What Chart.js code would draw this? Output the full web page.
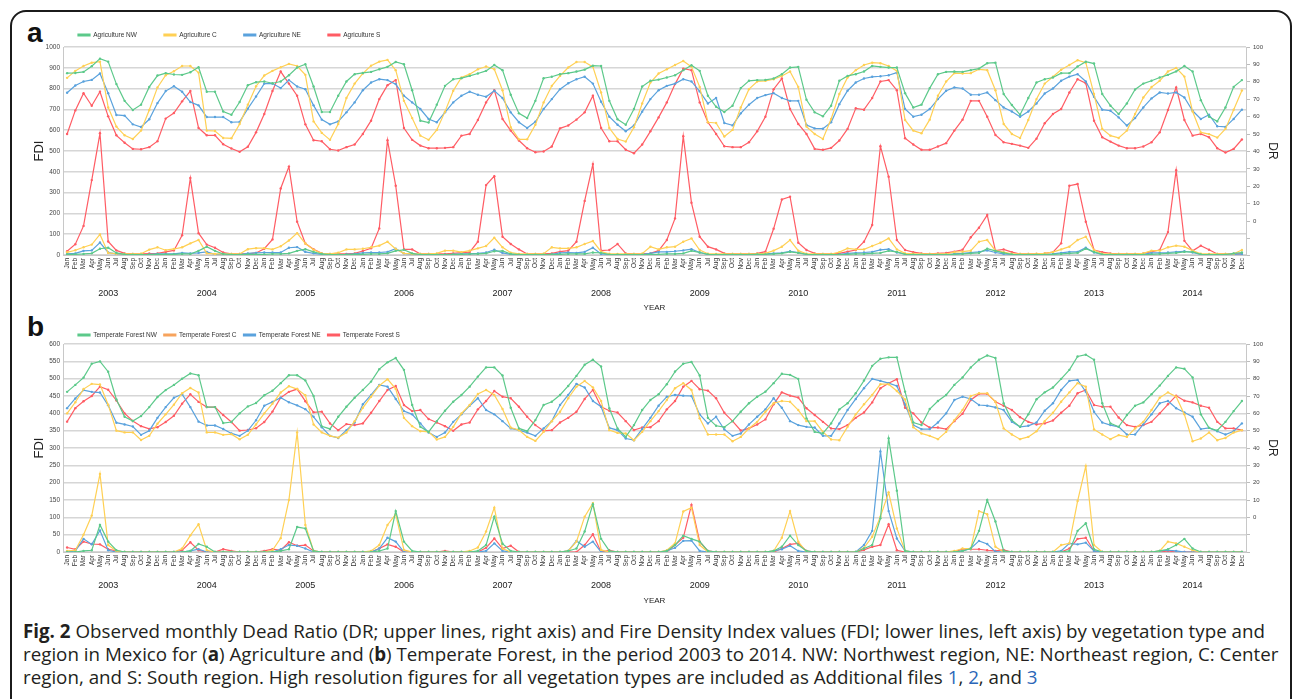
<!DOCTYPE html>
<html>
<head>
<meta charset="utf-8">
<script src="https://cdn.jsdelivr.net/npm/chart.js@4.4.0/dist/chart.umd.min.js"></script>
<style>
body { margin: 0; background: #fff; width: 1293px; height: 699px; overflow: hidden; position: relative; }
#frame { position: absolute; left: 10px; top: 10px; width: 1282px; height: 740px; box-sizing: border-box;
         border: 2.5px solid #1b1b1b; border-radius: 16px; }
.tag { position: absolute; left: 27px; font: bold 28px/28px "Liberation Sans", Arial, sans-serif; color: #111; }
canvas { position: absolute; left: 0; }
#caption { position: absolute; left: 23px; top: 620px; font: 19px/23px "Open Sans", sans-serif; color: #231f20; }
#caption .ln { white-space: nowrap; width: max-content; transform-origin: 0 0; }
#caption .lk { color: #2b66b8; }
</style>
</head>
<body>
<div id="frame"></div>
<div class="tag" style="top:19px">a</div>
<div class="tag" style="top:313px">b</div>
<canvas id="agri" width="1293" height="296" style="top:24px"></canvas>
<canvas id="forest" width="1293" height="292" style="top:318px"></canvas>
<div id="caption">
  <div class="ln"><b>Fig. 2</b> Observed monthly Dead Ratio (DR; upper lines, right axis) and Fire Density Index values (FDI; lower lines, left axis) by vegetation type and</div>
  <div class="ln">region in Mexico for (<b>a</b>) Agriculture and (<b>b</b>) Temperate Forest, in the period 2003 to 2014. NW: Northwest region, NE: Northeast region, C: Center</div>
  <div class="ln">region, and S: South region. High resolution figures for all vegetation types are included as Additional files <span class="lk">1</span>, <span class="lk">2</span>, and <span class="lk">3</span></div>
</div>
<script>
Chart.defaults.font.family = '"Liberation Sans", Arial, sans-serif';
Chart.defaults.color = '#333';
Chart.defaults.animation = false;

// axis labels
const months = ['Jan', 'Feb', 'Mar', 'Apr', 'May', 'Jun', 'Jul', 'Aug', 'Sep', 'Oct', 'Nov', 'Dec'];
const years = ['2003', '2004', '2005', '2006', '2007', '2008', '2009', '2010', '2011', '2012', '2013', '2014'];
const monthLabels = years.flatMap(() => months);
const yearLabels = years.flatMap(y => months.map(() => y));

// panel a: Agriculture
const agriNames = ['Agriculture NW', 'Agriculture C', 'Agriculture NE', 'Agriculture S'];

const agriDrNW = [
  85.0,85.1,85.7,89.0,93.3,91.6,78.7,69.1,63.8,66.9,77.1,83.6,
  85.0,84.2,84.0,85.5,88.4,74.3,74.3,63.0,61.1,68.4,78.1,79.8,
  80.2,79.2,80.2,83.8,88.2,90.1,77.3,62.7,62.7,72.0,80.2,84.4,
  85.1,85.7,87.2,88.6,91.4,90.1,75.2,57.7,56.6,66.9,77.7,81.5,
  82.1,83.4,84.8,86.3,89.7,86.7,72.6,61.9,59.2,69.1,82.1,82.9,
  84.4,85.0,85.9,87.0,89.3,89.1,69.1,58.5,55.4,64.4,77.3,80.6,
  81.3,82.5,83.8,86.7,89.5,86.3,72.0,65.7,62.7,66.3,76.4,80.6,
  81.0,81.1,81.9,84.4,88.2,88.6,69.7,62.5,60.2,66.3,80.6,83.4,
  84.4,85.9,89.1,88.6,88.2,88.2,73.5,65.3,66.9,76.4,84.4,85.7,
  85.9,85.7,86.7,87.6,90.7,91.0,73.0,66.7,61.1,70.7,79.6,81.5,
  82.5,85.0,85.0,88.8,91.6,90.5,73.0,66.3,61.5,67.6,75.6,79.0,
  80.6,82.5,84.0,86.0,89.1,85.9,69.5,60.0,57.3,65.3,77.1,81.0
];
const agriDrC = [
  82.3,86.3,89.1,91.0,91.6,65.3,54.3,49.3,47.2,52.0,63.8,76.8,
  83.8,86.1,89.1,89.1,85.3,52.0,51.8,47.8,47.6,55.8,66.9,77.5,
  83.6,86.3,88.4,90.3,89.1,84.0,57.3,50.7,46.7,55.8,70.7,79.0,
  84.8,89.3,91.6,92.6,86.7,69.1,59.2,49.1,46.7,52.4,62.9,74.9,
  82.5,84.4,87.2,88.8,87.2,75.2,53.9,47.0,47.0,55.4,68.2,77.7,
  83.4,88.2,91.4,91.4,88.6,73.9,53.5,47.2,45.7,53.9,67.6,79.6,
  84.8,87.2,89.7,92.0,88.6,77.1,56.8,56.4,48.6,52.4,65.3,75.8,
  80.2,80.6,81.5,83.4,85.9,77.1,54.3,50.1,47.2,58.7,73.0,82.5,
  86.7,89.7,91.0,90.7,89.1,86.3,58.1,52.0,50.5,58.3,72.0,80.2,
  85.0,84.8,85.0,87.2,86.7,75.2,55.8,50.1,47.8,58.1,70.1,79.0,
  82.9,86.9,89.7,92.4,91.0,73.0,53.0,49.1,47.8,52.0,61.5,71.0,
  77.0,80.6,85.9,88.0,83.0,63.0,51.0,50.0,48.0,53.0,64.0,75.0
];
const agriDrNE = [
  73.7,77.9,80.2,81.1,84.8,73.5,61.0,60.6,55.6,54.1,58.5,67.8,
  74.7,77.5,74.3,68.4,66.5,59.8,59.8,59.8,56.8,57.0,64.6,71.6,
  79.0,79.0,76.4,81.0,77.3,75.8,66.5,58.3,55.6,57.3,62.5,68.2,
  75.2,79.6,81.5,81.0,78.7,72.0,68.2,64.4,58.7,56.8,62.5,68.2,
  72.0,74.3,72.6,71.4,74.9,70.7,62.5,56.8,53.5,57.1,64.4,70.1,
  75.8,79.2,81.5,82.9,79.0,68.6,60.0,55.4,51.6,54.9,62.9,70.1,
  75.2,77.7,79.0,81.5,80.2,74.5,67.6,70.7,56.4,55.0,61.9,66.9,
  70.7,72.4,73.5,70.7,69.1,69.1,55.2,53.3,53.1,56.8,67.2,74.9,
  79.6,81.9,82.9,83.2,83.8,85.3,64.4,60.0,61.1,64.4,70.1,74.9,
  76.8,76.2,72.6,72.6,73.9,69.5,65.3,63.0,60.0,63.0,67.6,73.3,
  76.2,80.6,83.0,84.4,80.2,71.4,64.0,63.4,59.6,54.9,59.2,65.3,
  70.5,73.9,73.3,73.9,71.0,63.4,58.7,61.1,54.5,54.1,58.7,64.0
];
const agriDrS = [
  50.1,63.6,73.5,66.3,74.3,60.2,49.3,45.0,41.5,41.3,42.5,45.9,
  58.9,62.1,68.8,74.7,53.5,49.3,49.3,44.2,41.7,39.8,42.7,51.0,
  61.5,74.7,85.9,79.0,72.0,55.6,46.5,45.9,41.3,40.6,42.5,44.0,
  50.1,57.7,70.1,78.1,81.0,53.5,46.7,43.4,41.9,41.9,42.1,42.5,
  49.1,50.1,58.1,68.2,75.2,58.7,52.0,46.3,41.9,39.6,40.0,42.9,
  53.3,54.9,58.3,62.5,72.0,53.5,45.9,45.9,41.0,39.0,44.0,51.6,
  59.6,68.2,78.7,87.6,86.7,68.2,56.8,50.1,43.0,42.5,42.5,45.3,
  51.6,60.0,75.8,81.9,64.4,55.8,50.1,41.5,41.0,42.1,46.3,53.0,
  64.8,64.0,70.7,80.2,81.0,75.2,47.6,44.0,41.0,41.0,42.9,44.8,
  52.0,58.3,69.1,69.1,60.0,49.5,45.3,44.4,43.4,42.1,47.4,56.2,
  61.5,64.4,73.9,81.5,79.2,57.7,48.2,45.7,43.4,41.9,41.9,42.9,
  45.3,51.0,63.8,76.8,58.1,49.1,50.1,48.2,41.9,39.4,41.5,46.9
];

const agriFdiNW = [
  3,3,5,8,30,35,10,3,2,2,2,3,
  3,3,5,5,20,40,20,5,2,2,3,3,
  3,5,5,8,20,28,15,5,2,2,2,3,
  3,5,5,8,20,25,8,2,2,2,2,3,
  3,5,5,8,18,20,5,2,2,2,2,3,
  3,5,5,5,12,10,2,2,2,2,2,3,
  3,5,5,8,20,12,3,2,2,2,2,2,
  3,3,5,8,15,10,3,2,2,2,2,3,
  5,5,8,10,20,15,3,2,2,2,2,2,
  3,5,8,10,30,20,10,3,2,2,2,2,
  3,5,8,10,30,15,3,2,2,2,2,2,
  3,5,8,10,15,15,3,2,2,2,8,12
];
const agriFdiC = [
  13,23,37,50,99,10,6,5,5,6,26,37,
  23,29,37,56,72,8,5,5,5,5,28,33,
  33,27,42,70,105,55,25,8,5,11,27,27,
  30,37,45,64,29,8,5,5,5,8,21,21,
  14,21,32,43,83,37,11,5,5,5,6,37,
  32,32,37,53,67,16,6,5,5,5,6,40,
  27,37,40,64,80,24,6,5,5,5,5,5,
  6,8,21,40,72,21,6,5,5,5,14,32,
  27,27,43,59,80,27,8,6,5,5,5,5,
  14,16,21,64,72,21,14,6,5,5,6,8,
  14,27,40,72,88,24,6,5,5,5,5,8,
  21,21,37,45,40,21,6,5,5,5,6,24
];
const agriFdiNE = [
  5,8,20,22,60,12,5,3,2,2,3,5,
  5,5,10,8,10,15,3,3,2,2,8,10,
  12,12,12,35,38,15,8,3,2,2,3,5,
  10,12,12,15,30,8,3,2,2,2,2,3,
  5,5,8,12,25,10,3,2,2,2,2,3,
  10,12,10,15,35,5,3,2,2,2,3,8,
  15,15,18,22,28,12,3,2,2,2,2,2,
  3,5,8,10,18,12,3,2,2,2,3,8,
  10,12,15,25,28,12,5,3,2,2,2,2,
  5,8,12,15,22,12,5,3,2,2,2,2,
  5,10,15,15,35,12,3,2,2,2,2,3,
  10,10,12,15,18,12,3,2,2,2,3,5
];
const agriFdiS = [
  18,52,140,360,585,65,22,8,5,5,7,8,
  15,22,95,370,105,50,35,12,5,5,5,10,
  30,75,320,425,160,55,28,8,5,5,5,8,
  19,32,128,552,333,27,27,5,5,5,5,8,
  11,14,64,336,379,88,53,27,5,5,5,8,
  16,21,64,260,437,21,24,53,8,5,5,8,
  21,72,176,571,251,88,40,27,8,5,5,5,
  8,16,126,267,280,59,24,8,5,5,8,16,
  24,64,144,523,376,72,24,14,8,5,8,10,
  16,25,85,131,192,21,27,14,5,5,5,8,
  14,56,333,341,160,24,14,8,5,5,5,8,
  16,24,110,408,68,20,45,25,5,5,5,5
];

// panel b: Temperate Forest
const forestNames = ['Temperate Forest NW', 'Temperate Forest C', 'Temperate Forest NE', 'Temperate Forest S'];

const forestDrNW = [
  72.4,76.4,80.6,88.6,90.0,84.0,68.0,58.0,55.6,58.4,63.6,69.4,
  73.4,76.4,80.0,83.0,82.0,63.6,63.6,54.4,55.0,60.0,64.0,66.0,
  70.4,73.0,77.4,82.0,82.0,79.0,70.0,52.5,51.0,58.0,63.8,69.0,
  73.5,78.3,85.5,89.4,91.9,85.1,64.8,52.2,49.3,55.5,61.5,66.7,
  70.6,75.4,81.2,86.5,86.5,81.8,63.2,51.3,49.7,56.1,64.8,66.7,
  70.6,75.8,81.6,88.0,90.9,87.0,62.9,51.3,46.4,53.2,61.9,67.7,
  71.0,76.8,84.1,88.6,89.6,81.8,57.4,52.8,52.0,55.5,60.9,65.8,
  69.6,72.5,77.4,82.8,82.2,79.9,57.1,49.3,48.4,54.2,62.3,65.8,
  71.6,78.9,87.4,91.5,92.3,92.3,72.5,54.7,53.2,62.5,67.1,70.6,
  76.4,80.7,86.5,90.9,93.4,91.9,65.8,56.1,52.2,59.4,68.1,72.1,
  74.9,79.9,85.1,92.8,93.8,90.9,65.8,54.2,52.2,59.0,64.4,66.3,
  71.0,76.0,81.6,86.5,85.7,80.7,59.4,51.6,50.1,55.1,61.3,67.1
];
const forestDrC = [
  60.0,66.4,74.0,77.0,76.6,65.0,50.0,49.0,49.0,44.6,47.0,54.0,
  59.4,65.0,71.6,74.6,72.0,49.0,49.0,47.6,48.0,45.0,47.6,53.6,
  60.0,65.6,72.0,75.6,74.0,70.4,53.6,49.0,47.0,46.0,48.9,55.5,
  63.2,69.6,76.0,79.7,74.1,57.4,52.6,49.7,49.3,44.9,46.4,52.2,
  60.0,64.8,71.2,73.5,70.6,62.5,51.8,50.3,46.4,44.1,49.3,55.5,
  60.9,68.7,75.4,78.7,75.0,67.1,50.3,48.7,48.4,44.5,49.3,55.5,
  61.3,67.7,74.5,77.4,73.5,57.1,47.8,47.8,47.8,43.9,46.4,51.3,
  55.1,60.9,65.8,67.1,66.7,61.9,55.5,55.5,49.3,44.9,44.5,52.2,
  59.4,65.2,70.6,76.8,76.8,72.9,68.0,52.0,48.4,47.0,45.1,49.3,
  56.1,62.0,70.0,71.6,71.6,66.7,51.3,47.8,45.1,46.4,49.7,55.5,
  60.3,66.7,72.1,77.4,75.4,50.7,47.8,45.1,47.4,46.4,51.3,55.1,
  61.9,69.0,72.1,69.6,59.4,43.9,45.5,48.9,44.5,45.8,48.9,50.3
];
const forestDrNE = [
  63.0,68.6,73.4,72.4,72.0,64.6,54.6,53.6,52.4,47.6,50.0,57.4,
  63.6,69.0,71.0,63.6,55.2,53.0,53.0,51.0,48.4,47.0,50.0,56.0,
  64.4,66.6,69.0,66.4,64.6,62.4,58.0,52.0,47.0,45.8,50.3,54.7,
  65.2,70.6,76.4,75.4,68.3,61.3,59.4,54.2,48.9,46.4,48.9,55.1,
  59.4,64.4,68.7,61.9,59.4,55.5,51.3,50.3,48.9,47.0,51.3,55.5,
  64.8,70.6,77.0,74.9,67.1,63.8,51.6,50.3,45.5,44.5,51.0,57.4,
  64.4,69.6,70.6,70.2,70.0,59.4,54.2,58.0,50.7,47.0,48.4,53.6,
  58.0,62.3,68.7,63.2,55.5,53.2,52.2,51.8,47.0,47.0,54.2,61.9,
  68.3,74.5,79.9,78.7,77.4,75.8,65.2,53.2,50.9,50.9,54.7,60.0,
  67.7,69.6,68.3,64.8,64.4,63.4,61.9,55.1,52.2,52.8,54.7,61.5,
  65.8,73.5,78.7,79.3,72.5,60.9,54.7,53.2,52.2,47.8,47.8,53.6,
  59.4,65.8,67.1,62.9,60.5,58.0,50.9,51.6,49.7,47.8,49.7,54.2
];
const forestDrS = [
  55.2,63.0,67.0,70.0,75.4,73.6,67.4,60.0,55.6,52.6,51.0,52.0,
  55.0,58.6,65.6,71.0,66.6,63.6,63.6,59.0,55.0,50.0,50.4,51.4,
  55.0,61.0,69.0,72.4,74.0,67.0,60.6,61.0,54.2,50.3,53.8,53.2,
  54.2,60.3,67.1,73.5,75.8,64.8,61.3,61.9,56.7,54.7,52.6,49.9,
  53.6,54.7,62.3,67.1,72.9,69.6,68.7,63.8,58.0,53.2,49.9,50.3,
  54.7,57.4,60.9,68.3,73.5,63.8,61.5,60.5,55.5,50.3,51.8,52.0,
  55.5,62.3,67.1,75.4,78.7,73.9,73.1,68.7,60.3,55.5,50.1,51.3,
  53.6,56.5,65.2,72.1,70.2,69.1,62.9,59.0,55.1,51.3,50.9,53.2,
  57.4,60.5,66.3,74.5,77.4,79.7,63.2,60.0,54.7,51.8,51.8,50.9,
  55.5,59.8,67.7,71.2,71.2,66.7,64.4,61.9,57.8,55.1,53.6,54.2,
  55.9,60.3,64.4,71.6,73.5,64.8,63.8,63.8,57.6,53.2,52.2,53.2,
  55.1,60.0,65.2,70.2,67.3,66.3,64.4,63.2,55.1,51.3,51.3,50.3
];

const forestFdiNW = [
  0,0,3,5,78,30,5,0,0,0,0,0,
  0,0,0,3,23,15,0,0,0,0,0,0,
  0,0,3,8,72,68,3,0,0,0,0,0,
  0,0,3,10,118,30,3,0,0,0,0,0,
  0,0,3,20,102,24,3,0,0,0,0,0,
  0,3,10,59,138,38,3,0,0,0,0,0,
  0,3,20,47,38,30,3,0,0,0,0,0,
  0,0,3,15,47,20,3,0,0,0,0,0,
  0,10,20,97,328,177,3,0,0,0,0,0,
  0,3,10,61,150,88,3,0,0,0,0,0,
  0,0,3,61,83,8,0,0,0,0,0,0,
  0,3,8,20,38,10,0,0,0,0,0,0
];
const forestFdiC = [
  3,5,50,105,225,20,3,0,0,0,0,0,
  0,0,10,48,80,5,0,0,0,0,0,0,
  0,5,40,150,345,78,3,0,0,0,0,0,
  0,3,20,78,109,6,0,0,0,0,0,0,
  0,3,13,59,128,10,0,0,0,0,0,0,
  0,3,30,102,141,6,0,0,0,0,0,0,
  0,5,25,117,128,20,0,0,0,0,0,0,
  0,0,3,41,118,30,0,0,0,0,0,0,
  0,12,44,102,172,68,3,0,0,0,0,0,
  3,10,10,118,109,15,0,0,0,0,0,0,
  0,20,25,147,248,20,0,0,0,0,0,0,
  0,3,30,25,15,5,0,0,0,0,0,0
];
const forestFdiNE = [
  0,3,38,22,62,5,0,0,0,0,0,0,
  0,0,0,3,8,0,0,0,0,0,0,0,
  0,0,8,20,18,10,0,0,0,0,0,0,
  0,0,10,41,30,0,0,0,0,0,0,0,
  0,0,0,3,25,3,0,0,0,0,0,0,
  0,3,32,15,30,0,0,0,0,0,0,0,
  0,3,12,32,33,3,0,0,0,0,0,0,
  0,0,3,8,18,3,0,0,0,0,0,0,
  0,20,61,290,118,39,3,0,0,0,0,0,
  0,3,10,32,23,1,0,0,0,0,0,0,
  0,3,25,22,27,3,0,0,0,0,0,0,
  0,3,5,3,0,0,0,0,0,0,0,0
];
const forestFdiS = [
  13,8,30,23,22,8,3,0,0,0,0,0,
  0,0,5,28,5,0,0,8,3,0,0,0,
  3,8,5,28,18,20,3,0,0,0,0,0,
  0,0,10,22,15,0,0,0,0,0,3,0,
  0,0,0,12,39,10,18,0,0,0,0,0,
  0,0,0,20,51,0,5,0,0,0,0,0,
  0,0,20,41,136,30,3,0,0,0,0,0,
  0,0,0,10,22,25,3,0,0,0,0,0,
  0,6,15,20,80,5,0,0,0,0,0,0,
  0,9,8,8,5,3,6,0,0,0,0,0,
  0,0,10,38,41,3,0,0,0,0,0,0,
  0,0,3,0,0,0,0,0,0,0,0,0
];

const lineColors = ['#5cc98a', '#ffd054', '#5aa2dd', '#ff5c64'];
const forestLegendColors = ['#5cc98a', '#f7a35c', '#5aa2dd', '#ff5c64'];

function series(label, data, color, axis) {
  return {
    label: label,
    data: data,
    yAxisID: axis,
    borderColor: color,
    backgroundColor: color,
    borderWidth: 1.2,
    pointRadius: 1.2,
    pointBorderWidth: 0,
    pointBackgroundColor: color,
    tension: 0
  };
}

// puts the legend where the original has it and fixes its height
const legendPlace = {
  id: 'legendPlace',
  beforeInit(chart, args, opts) {
    const fit = chart.legend.fit;
    chart.legend.fit = function () {
      fit.call(this);
      this.height = opts.height;
    };
  },
  afterLayout(chart, args, opts) {
    const pad = chart.legend.options.labels.padding;
    chart.legend.left = opts.x - pad;
    chart.legend.top = opts.y - pad - opts.font / 2;
  }
};

function panelConfig(names, dr, fdi, fdiMax, fdiStep, drMin, legendColors, place) {
  const datasets = [];
  names.forEach((n, k) => datasets.push(series(n, dr[k], lineColors[k], 'y2')));
  names.forEach((n, k) => datasets.push(series(n + ' FDI', fdi[k], lineColors[k], 'y')));
  return {
    type: 'line',
    data: { labels: monthLabels, datasets: datasets },
    plugins: [legendPlace],
    options: {
      responsive: false,
      devicePixelRatio: 1,
      events: [],
      layout: { padding: 0 },
      plugins: {
        tooltip: { enabled: false },
        legendPlace: place,
        legend: {
          position: 'top',
          align: 'start',
          labels: {
            boxWidth: 12,
            boxHeight: 2,
            padding: place.gap,
            color: '#333',
            font: { size: 6.5 },
            filter: item => item.datasetIndex < 4,
            generateLabels: chart => Chart.defaults.plugins.legend.labels.generateLabels(chart).map(it => {
              if (it.datasetIndex < 4) {
                it.fillStyle = legendColors[it.datasetIndex];
                it.strokeStyle = legendColors[it.datasetIndex];
              }
              return it;
            })
          }
        }
      },
      scales: {
        x: {
          offset: true,
          weight: 0,
          ticks: { autoSkip: false, minRotation: 90, maxRotation: 90, font: { size: 6.5 }, color: '#333', padding: 3 },
          grid: { display: false, drawTicks: false },
          border: { color: '#c8c8c8' },
          afterFit: s => { s.height = place.xHeight; }
        },
        x2: {
          type: 'category',
          labels: yearLabels,
          position: 'bottom',
          offset: true,
          weight: 1,
          ticks: {
            autoSkip: false, minRotation: 0, maxRotation: 0, font: { size: 9 }, color: '#222', padding: place.yearPad,
            callback: function (v, i) { return i % 12 === 5 ? this.getLabelForValue(v) : ''; }
          },
          grid: { display: false, drawTicks: false },
          border: { display: false },
          title: { display: true, text: 'YEAR', font: { size: 8 }, color: '#222', padding: { top: 0, bottom: place.titlePad } },
          afterFit: s => { s.height = place.x2Height; }
        },
        y: {
          position: 'left',
          min: 0,
          max: fdiMax,
          ticks: { stepSize: fdiStep, callback: v => String(v), font: { size: 6.5 }, color: '#444', padding: 3 },
          grid: { color: '#d6d6d6', lineWidth: 1.5, drawTicks: false },
          border: { color: '#c8c8c8' },
          title: { display: true, text: 'FDI', font: { size: 13 }, color: '#222', padding: { top: 32 } },
          afterFit: s => { s.width = 63; }
        },
        y2: {
          position: 'right',
          min: drMin,
          max: 100,
          afterBuildTicks: s => {
            const t = [{ value: drMin }];
            for (let v = -10; v <= 100; v += 10) t.push({ value: v });
            s.ticks = t;
          },
          ticks: { callback: v => (v >= 0 ? String(v) : ''), font: { size: 6 }, color: '#444', padding: 3 },
          grid: { drawOnChartArea: false, tickLength: 4, color: '#bdbdbd' },
          border: { color: '#c8c8c8' },
          title: { display: true, text: 'DR', font: { size: 12 }, color: '#222', padding: { top: 13 } },
          afterFit: s => { s.width = 47; }
        }
      }
    }
  };
}

// render agriculture panel
const agriChart = new Chart(
  document.getElementById('agri'),
  panelConfig(agriNames,
    [agriDrNW, agriDrC, agriDrNE, agriDrS],
    [agriFdiNW, agriFdiC, agriFdiNE, agriFdiS],
    1000, 100, -19.4, lineColors,
    { x: 78, y: 11, font: 6.5, gap: 27, height: 23, xHeight: 30, x2Height: 35, yearPad: 3, titlePad: 7 })
);

// render temperate forest panel
const forestChart = new Chart(
  document.getElementById('forest'),
  panelConfig(forestNames,
    [forestDrNW, forestDrC, forestDrNE, forestDrS],
    [forestFdiNW, forestFdiC, forestFdiNE, forestFdiS],
    600, 50, -20, forestLegendColors,
    { x: 78, y: 17, font: 6.5, gap: 7, height: 26, xHeight: 27, x2Height: 31, yearPad: 1, titlePad: 4 })
);

// caption lines squeezed to the width of the original
function fitCaption() {
  const lines = document.querySelectorAll('#caption .ln');
  lines.forEach(l => { l.style.transform = 'none'; });
  const w = lines[0].getBoundingClientRect().width;
  const k = 1242 / w;
  lines.forEach(l => { l.style.transform = 'scaleX(' + k + ')'; });
}
fitCaption();
document.fonts.ready.then(fitCaption);
</script>
</body>
</html>
